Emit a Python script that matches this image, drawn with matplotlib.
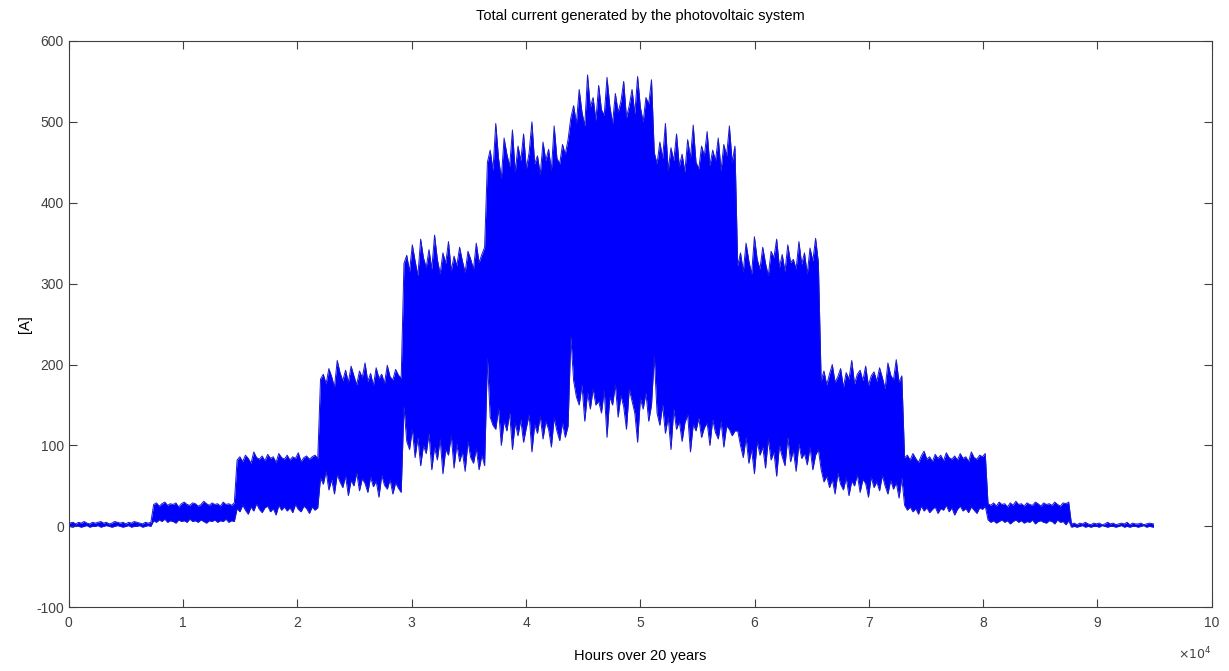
import numpy as np
import matplotlib
matplotlib.use("Agg")
import matplotlib.pyplot as plt
from matplotlib.ticker import FuncFormatter

# one block of 7300 hours per step, 13 steps over the 20 years
hours_per_step = 7300
n_steps = 13
readings_per_step = 30

# upper peaks of the current [A] (one line per step)
current_max = [
    4, 5, 3, 5, 4, 6, 4, 3, 5, 4, 5, 6, 4, 5, 3, 4, 6, 5, 4, 5, 3, 5, 4, 6, 5, 4, 3, 5, 4, 5,
    27, 29, 25, 28, 30, 26, 28, 27, 29, 24, 28, 30, 27, 26, 29, 28, 25, 27, 31, 28, 26, 29, 27, 28, 25, 30, 27, 28, 26, 29,
    82, 86, 80, 88, 84, 78, 92, 85, 83, 87, 81, 89, 84, 86, 79, 90, 85, 83, 88, 82, 86, 84, 91, 80, 85, 87, 83, 86, 88, 84,
    182, 188, 176, 195, 185, 172, 205, 190, 180, 193, 178, 198, 186, 175, 192, 184, 202, 179, 189, 174, 196, 183, 188, 177, 199, 185, 181, 194, 187, 183,
    325, 335, 315, 348, 328, 310, 355, 332, 320, 342, 318, 360, 330, 312, 338, 325, 352, 316, 334, 322, 345, 328, 314, 340, 330, 318, 350, 326, 336, 345,
    450, 465, 440, 498, 455, 430, 480, 460, 445, 490, 438, 470, 452, 485, 442, 462, 500, 448, 458, 435, 475, 452, 466, 440, 495, 455, 448, 472, 460, 478,
    505, 520, 498, 540, 512, 495, 558, 518, 530, 502, 545, 515, 508, 555, 520, 498, 535, 512, 525, 550, 505, 520, 540, 510, 556, 518, 500, 530, 522, 552,
    462, 448, 475, 455, 498, 440, 468, 452, 485, 445, 460, 438, 478, 455, 496, 450, 442, 470, 458, 488, 446, 465, 452, 480, 440, 472, 458, 495, 450, 470,
    322, 338, 315, 350, 328, 312, 358, 330, 318, 345, 325, 310, 340, 332, 355, 320, 336, 315, 348, 326, 330, 318, 352, 324, 338, 312, 344, 328, 356, 326,
    180, 192, 175, 188, 200, 178, 185, 195, 172, 190, 182, 205, 176, 188, 193, 180, 198, 174, 186, 191, 179, 196, 184, 170, 202, 187, 181, 206, 178, 186,
    85, 88, 82, 90, 84, 79, 87, 93, 83, 86, 80, 89, 84, 88, 81, 91, 85, 83, 87, 82, 90, 84, 86, 80, 92, 85, 83, 88, 86, 90,
    28, 26, 29, 25, 30, 27, 28, 24, 29, 26, 31, 27, 28, 25, 29, 27, 26, 30, 28, 25, 29, 27, 28, 26, 30, 27, 25, 29, 28, 30,
    3, 4, 2, 4, 3, 5, 3, 2, 4, 3, 4, 2, 3, 5, 3, 4, 2, 3, 4, 3, 5, 2, 4, 3, 3, 4, 2, 3, 4, 3,
]

# lower troughs of the current [A]
current_min = [
    0, -1, 1, 0, -1, 0, 1, -1, 0, 0, 1, -1, 0, 1, 0, -1, 0, 1, 0, -1, 0, 1, -1, 0, 0, 1, -1, 0, 1, 0,
    7, 5, 8, 6, 9, 5, 7, 6, 4, 8, 6, 7, 5, 9, 6, 7, 5, 8, 6, 4, 7, 6, 8, 5, 7, 6, 9, 5, 7, 6,
    22, 18, 26, 20, 15, 24, 19, 28, 21, 17, 23, 25, 18, 22, 14, 26, 20, 24, 19, 23, 17, 27, 21, 18, 25, 22, 16, 24, 20, 23,
    60, 52, 68, 45, 58, 40, 64, 55, 48, 62, 38, 57, 50, 66, 44, 59, 53, 42, 61, 49, 56, 36, 63, 51, 46, 58, 40, 54, 47, 42,
    148, 105, 95, 120, 85, 110, 75, 100, 90, 115, 70, 98, 82, 108, 65, 95, 88, 112, 72, 102, 80, 92, 68, 105, 85, 78, 96, 70, 88, 75,
    207, 135, 125, 120, 145, 100, 130, 118, 140, 95, 128, 112, 132, 104, 122, 138, 92, 126, 115, 136, 108, 130, 120, 98, 134, 118, 106, 128, 110, 124,
    234, 180, 160, 150, 175, 130, 165, 145, 170, 150, 155, 140, 168, 110, 160, 150, 175, 135, 162, 148, 120, 170, 155, 140, 104, 158, 145, 165, 130, 150,
    210, 140, 125, 150, 115, 135, 95, 145, 120, 130, 105, 128, 138, 92, 126, 118, 134, 110, 122, 128, 100, 132, 116, 108, 130, 98, 124, 120, 112, 118,
    118, 100, 85, 110, 78, 95, 65, 105, 88, 98, 72, 108, 82, 92, 62, 100, 86, 75, 110, 80, 94, 68, 102, 84, 90, 76, 98, 70, 88, 95,
    70, 55, 62, 48, 58, 40, 66, 52, 45, 60, 38, 56, 50, 64, 42, 58, 53, 36, 61, 48, 55, 44, 63, 50, 40, 57, 46, 54, 35, 60,
    26, 20, 24, 18, 22, 15, 25, 19, 23, 17, 21, 24, 16, 22, 20, 26, 18, 23, 14, 21, 25, 19, 22, 17, 24, 20, 16, 23, 21, 25,
    8, 5, 7, 4, 6, 8, 5, 7, 3, 6, 8, 5, 7, 4, 6, 5, 8, 3, 6, 7, 5, 4, 7, 6, 3, 8, 5, 6, 2, 7,
    -1, 0, -1, 0, 1, -1, 0, -1, 0, 0, -1, 1, 0, -1, 0, 0, -1, 0, 1, -1, 0, -1, 0, 0, -1, 0, 1, -1, 0, -1,
]

hi = np.array(current_max, dtype=float)
lo = np.array(current_min, dtype=float)

# hour at the middle of each reading
step = hours_per_step / readings_per_step
hours = (np.arange(n_steps * readings_per_step) + 0.5) * step
hours[0] = 0
hours[-1] = n_steps * hours_per_step

plt.rcParams['font.family'] = ['Liberation Sans', 'DejaVu Sans']
plt.rcParams['axes.unicode_minus'] = False

fig = plt.figure(figsize=(12.29, 6.71), dpi=100)
ax = fig.add_axes([0.056, 0.095, 0.930, 0.844])

# area between the peaks and the troughs, with a thin outline for the spikes
ax.fill_between(hours, lo, hi, color="#0000ff", lw=0)
ax.plot(hours, hi, color="#1a1acc", lw=0.7)
ax.plot(hours, lo, color="#1a1acc", lw=0.7)

ax.set_xlim(0, 100000)
ax.set_ylim(-100, 600)
ax.set_xticks(np.arange(0, 100001, 10000))
ax.set_yticks(np.arange(-100, 601, 100))
ax.xaxis.set_major_formatter(FuncFormatter(lambda v, p: f"{v / 1e4:g}"))
ax.text(1.0, -0.068, r"$\times10^4$", transform=ax.transAxes, ha="right", va="top",
        fontsize=9, color="#404040")

ax.tick_params(direction="in", top=True, right=True, length=6, width=0.8,
               labelsize=10, colors="#404040")
ax.tick_params(axis="x", pad=6)
for s in ax.spines.values():
    s.set_color("#404040")
    s.set_linewidth(0.8)

ax.set_title("Total current generated by the photovoltaic system", fontsize=10.5, pad=15)
ax.set_xlabel("Hours over 20 years", fontsize=10.5, labelpad=14)
ax.set_ylabel("[A]", fontsize=10.5, labelpad=3)

fig.savefig("out.png", dpi=100)
